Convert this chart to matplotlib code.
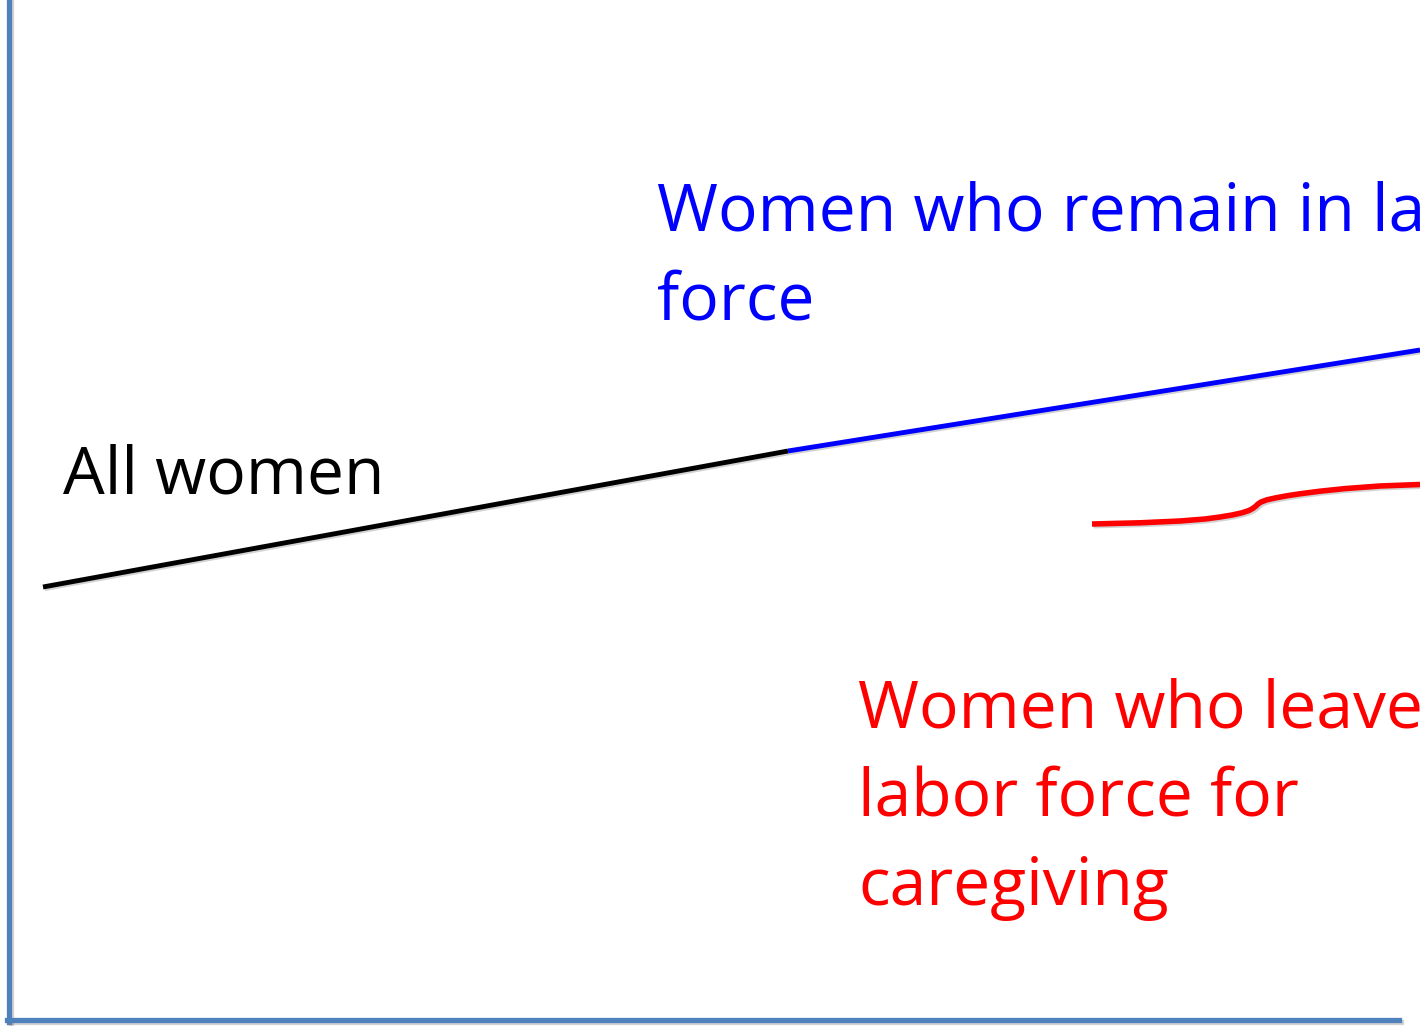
import matplotlib.pyplot as plt
import matplotlib.patheffects as pe
import numpy as np

# coordinates in picture units (x to the right, y downward)
all_x = [43, 788]
all_y = [587, 451]
remain_x = [788, 1420]
remain_y = [451, 350]
leave_x = [1092, 1140, 1180, 1205, 1220, 1232, 1242, 1249, 1253, 1256, 1258, 1261, 1267,
           1276, 1288, 1300, 1320, 1345, 1380, 1420]
leave_y = [524, 522.8, 521, 519, 517, 515, 512.8, 510.5, 508.3, 506, 504, 502, 499.8,
           497.8, 495.6, 493.8, 491.2, 488.6, 486, 484.5]

label_all = "All women"
label_remain = "Women who remain in labor\nforce"
label_leave = "Women who leave\nlabor force for\ncaregiving"

axis_color = "#4f81bd"
font = ["Open Sans", "DejaVu Sans"]

fig = plt.figure(figsize=(14.2, 10.26), dpi=100)
ax = fig.add_axes([0, 0, 1, 1])
ax.set_xlim(0, 1420)
ax.set_ylim(1026, 0)

shadow = [pe.SimpleLineShadow(offset=(1.2, -1.2), shadow_color="0.5", alpha=0.35), pe.Normal()]

ax.plot(all_x, all_y, color="black", lw=3.5, solid_capstyle="butt", path_effects=shadow)
ax.plot(remain_x, remain_y, color="#0000ff", lw=3.5, solid_capstyle="butt", path_effects=shadow)
ax.plot(leave_x, leave_y, color="#ff0000", lw=4, solid_capstyle="butt",
        solid_joinstyle="round", path_effects=shadow)

# baseline of the last line of each label
ax.text(63, 493, label_all, fontsize=47.5, color="black", family=font, va="baseline")
ax.text(657, 320, label_remain, fontsize=47.5, color="#0000ff", family=font, va="baseline",
        linespacing=1.45)
ax.text(858, 905, label_leave, fontsize=47.5, color="#ff0000", family=font, va="baseline",
        linespacing=1.45)

# axes drawn as spines
ax.set_xticks([])
ax.set_yticks([])
ax.spines["top"].set_visible(False)
ax.spines["right"].set_visible(False)
ax.spines["left"].set_position(("data", 9))
ax.spines["left"].set_bounds(0, 1022)
ax.spines["bottom"].set_position(("data", 1020))
ax.spines["bottom"].set_bounds(7, 1399)
for s in ("left", "bottom"):
    ax.spines[s].set_color(axis_color)
    ax.spines[s].set_linewidth(3.8)
    ax.spines[s].set_path_effects(shadow)
ax.patch.set_visible(False)

fig.savefig("out.png", dpi=100)
